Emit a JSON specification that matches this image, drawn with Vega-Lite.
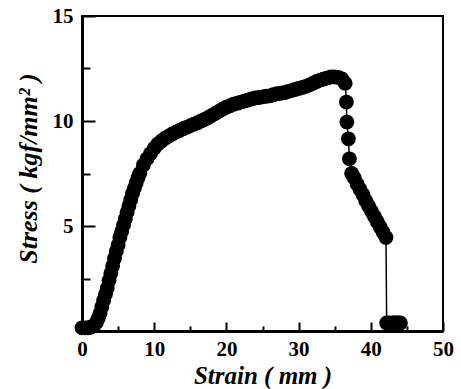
{
  "$schema": "https://vega.github.io/schema/vega-lite/v6.json",
  "width": 361,
  "height": 315,
  "autosize": {"type": "none"},
  "padding": {"left": 82, "top": 16, "right": 18, "bottom": 58},
  "background": "white",
  "config": {
    "view": {"stroke": "black", "strokeWidth": 2},
    "axis": {
      "domainColor": "black",
      "domainWidth": 3,
      "tickColor": "black",
      "tickWidth": 2,
      "grid": false,
      "labelFont": "Liberation Serif",
      "labelFontWeight": "bold",
      "labelFontSize": 21,
      "labelColor": "black",
      "titleFont": "Liberation Serif",
      "titleFontWeight": "bold",
      "titleFontStyle": "italic",
      "titleFontSize": 26,
      "titleColor": "black",
      "labelFlush": false,
      "labelOverlap": false
    }
  },
  "data": {
    "values": [
      {"strain": 0, "stress": 0.15},
      {"strain": 0.4, "stress": 0.15},
      {"strain": 0.8, "stress": 0.15},
      {"strain": 1.2, "stress": 0.18},
      {"strain": 1.6, "stress": 0.25},
      {"strain": 2.0, "stress": 0.4},
      {"strain": 2.25, "stress": 0.6},
      {"strain": 2.5, "stress": 0.85},
      {"strain": 2.75, "stress": 1.15},
      {"strain": 3.0, "stress": 1.45},
      {"strain": 3.25, "stress": 1.75},
      {"strain": 3.5, "stress": 2.05},
      {"strain": 3.75, "stress": 2.4},
      {"strain": 4.0, "stress": 2.75},
      {"strain": 4.25, "stress": 3.1},
      {"strain": 4.5, "stress": 3.45},
      {"strain": 4.75, "stress": 3.8},
      {"strain": 5.0, "stress": 4.1},
      {"strain": 5.25, "stress": 4.45},
      {"strain": 5.5, "stress": 4.75},
      {"strain": 5.75, "stress": 5.05},
      {"strain": 6.0, "stress": 5.35},
      {"strain": 6.25, "stress": 5.65},
      {"strain": 6.5, "stress": 5.95},
      {"strain": 6.75, "stress": 6.25},
      {"strain": 7.0, "stress": 6.55},
      {"strain": 7.25, "stress": 6.8},
      {"strain": 7.5, "stress": 7.05},
      {"strain": 7.75, "stress": 7.3},
      {"strain": 8.0, "stress": 7.5},
      {"strain": 8.5, "stress": 7.9},
      {"strain": 9.0, "stress": 8.2},
      {"strain": 9.5, "stress": 8.45},
      {"strain": 10, "stress": 8.7},
      {"strain": 10.5, "stress": 8.9},
      {"strain": 11, "stress": 9.05},
      {"strain": 11.5, "stress": 9.18},
      {"strain": 12, "stress": 9.28},
      {"strain": 12.5, "stress": 9.38},
      {"strain": 13, "stress": 9.47},
      {"strain": 13.5, "stress": 9.55},
      {"strain": 14, "stress": 9.63},
      {"strain": 14.5, "stress": 9.7},
      {"strain": 15, "stress": 9.78},
      {"strain": 15.5, "stress": 9.85},
      {"strain": 16, "stress": 9.92},
      {"strain": 16.5, "stress": 10.0},
      {"strain": 17, "stress": 10.08},
      {"strain": 17.5, "stress": 10.17},
      {"strain": 18, "stress": 10.27},
      {"strain": 18.5, "stress": 10.37},
      {"strain": 19, "stress": 10.47},
      {"strain": 19.5, "stress": 10.57},
      {"strain": 20, "stress": 10.66},
      {"strain": 20.5, "stress": 10.73},
      {"strain": 21, "stress": 10.8},
      {"strain": 21.5, "stress": 10.85},
      {"strain": 22, "stress": 10.9},
      {"strain": 22.5, "stress": 10.95},
      {"strain": 23, "stress": 11.0},
      {"strain": 23.5, "stress": 11.05},
      {"strain": 24, "stress": 11.1},
      {"strain": 24.5, "stress": 11.12},
      {"strain": 25, "stress": 11.15},
      {"strain": 25.5, "stress": 11.18},
      {"strain": 26, "stress": 11.2},
      {"strain": 26.5, "stress": 11.25},
      {"strain": 27, "stress": 11.3},
      {"strain": 27.5, "stress": 11.32},
      {"strain": 28, "stress": 11.35},
      {"strain": 28.5, "stress": 11.4},
      {"strain": 29, "stress": 11.45},
      {"strain": 29.5, "stress": 11.5},
      {"strain": 30, "stress": 11.55},
      {"strain": 30.5, "stress": 11.6},
      {"strain": 31, "stress": 11.65},
      {"strain": 31.5, "stress": 11.72},
      {"strain": 32, "stress": 11.8},
      {"strain": 32.5, "stress": 11.88},
      {"strain": 33, "stress": 11.95},
      {"strain": 33.5, "stress": 12.0},
      {"strain": 34, "stress": 12.05},
      {"strain": 34.5, "stress": 12.1},
      {"strain": 35, "stress": 12.1},
      {"strain": 35.5, "stress": 12.08},
      {"strain": 36, "stress": 12.0},
      {"strain": 36.45, "stress": 11.8},
      {"strain": 36.62, "stress": 10.9},
      {"strain": 36.68, "stress": 9.95},
      {"strain": 36.9, "stress": 9.15},
      {"strain": 37.04, "stress": 8.2},
      {"strain": 37.35, "stress": 7.5},
      {"strain": 37.7, "stress": 7.3},
      {"strain": 38.1, "stress": 7.0},
      {"strain": 38.5, "stress": 6.75},
      {"strain": 38.9, "stress": 6.5},
      {"strain": 39.3, "stress": 6.2},
      {"strain": 39.7, "stress": 5.95},
      {"strain": 40.1, "stress": 5.7},
      {"strain": 40.5, "stress": 5.45},
      {"strain": 40.9, "stress": 5.2},
      {"strain": 41.3, "stress": 4.95},
      {"strain": 41.7, "stress": 4.7},
      {"strain": 42.1, "stress": 4.45},
      {"strain": 42.2, "stress": 0.38},
      {"strain": 42.6, "stress": 0.38},
      {"strain": 43.0, "stress": 0.38},
      {"strain": 43.4, "stress": 0.4},
      {"strain": 43.8, "stress": 0.38},
      {"strain": 44.1, "stress": 0.38}
    ]
  },
  "layer": [
    {
      "mark": {"type": "line", "color": "black", "strokeWidth": 1.5, "clip": false},
      "encoding": {
        "x": {
          "field": "strain",
          "type": "quantitative",
          "scale": {"domain": [0, 50], "nice": false, "zero": false},
          "axis": {
            "orient": "bottom",
            "title": "Strain ( mm )",
            "values": [0, 10, 20, 30, 40, 50],
            "tickSize": -9,
            "labelPadding": 16,
            "labelFontWeight": 700,
            "titleX": 180.5,
            "titleY": 52,
            "titleFontSize": 25,
            "titleBaseline": "alphabetic",
            "titleAlign": "center"
          }
        },
        "y": {
          "field": "stress",
          "type": "quantitative",
          "scale": {"domain": [0, 15], "nice": false, "zero": false},
          "axis": {
            "orient": "left",
            "title": "Stress ( kgf/mm² )",
            "values": [5, 10, 15],
            "tickSize": -13,
            "labelPadding": 22,
            "labelFontWeight": 700,
            "titleX": -54,
            "titleY": 152,
            "titleAngle": -90,
            "titleBaseline": "middle",
            "titleAlign": "center"
          }
        }
      }
    },
    {
      "mark": {"type": "point", "filled": true, "color": "black", "opacity": 1, "size": 220, "shape": "circle", "clip": false},
      "encoding": {
        "x": {
          "field": "strain",
          "type": "quantitative",
          "axis": {
            "orient": "bottom",
            "title": null,
            "values": [5, 15, 25, 35, 45],
            "labels": false,
            "domain": false,
            "tickSize": -5
          }
        },
        "y": {
          "field": "stress",
          "type": "quantitative",
          "axis": {
            "orient": "left",
            "title": null,
            "values": [2.5, 7.5, 12.5],
            "labels": false,
            "domain": false,
            "tickSize": -8
          }
        }
      }
    }
  ],
  "resolve": {"axis": {"x": "independent", "y": "independent"}}
}
